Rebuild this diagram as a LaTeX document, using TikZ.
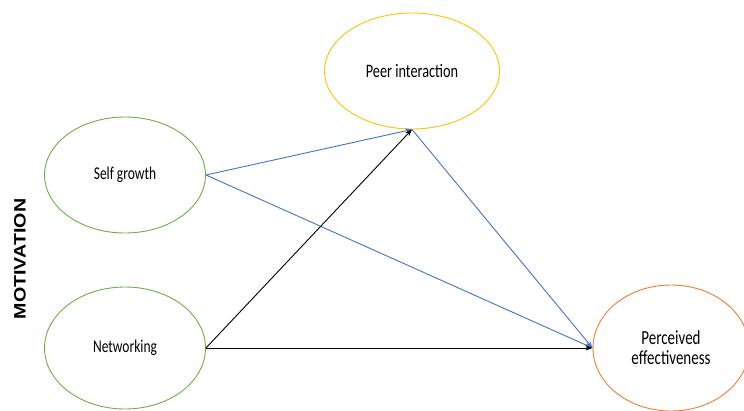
\documentclass[tikz,border=0pt]{standalone}
\usepackage{fontspec}
\setmainfont{Carlito}
\newfontfamily\motfont{Liberation Sans}
\usetikzlibrary{shapes.geometric,arrows.meta}
\definecolor{cgreen}{RGB}{112,173,71}
\definecolor{cyellow}{RGB}{255,192,0}
\definecolor{corange}{RGB}{237,125,49}
\definecolor{cblue}{RGB}{68,114,196}
\newcommand\sqz[1]{\scalebox{0.75}[1]{#1}}
\begin{document}
\begin{tikzpicture}[x=1pt,y=-1pt,
  construct/.style={ellipse,draw,line width=0.9pt,inner sep=0pt,align=center,text=black},
  link/.style={line width=0.9pt,-{Stealth[length=7pt,width=5pt]}},
  bluelink/.style={link,cblue},
  blacklink/.style={link,black}]
\useasboundingbox (0,0) rectangle (744,410);
\node[construct,draw=cgreen,minimum width=161pt,minimum height=116pt,font=\fontsize{18}{20}\selectfont] (sg) at (125,175) {\sqz{Self growth}};
\node[construct,draw=cgreen,minimum width=161pt,minimum height=122pt,font=\fontsize{18}{20}\selectfont] (nw) at (125,348) {\sqz{Networking}};
\node[construct,draw=cyellow,minimum width=175pt,minimum height=116pt,font=\fontsize{19}{21}\selectfont] (pi) at (412,71) {\sqz{Peer interaction}};
\node[construct,draw=corange,minimum width=156pt,minimum height=126pt,font=\fontsize{20}{20}\selectfont] (pe) at (671,348) {\sqz{Perceived}\\\sqz{effectiveness}};
\node[rotate=90,font=\motfont\bfseries\fontsize{16.5}{18}\selectfont] (mot) at (20,259) {\scalebox{1.19}[1]{MOTIVATION}};
\draw[bluelink] (sg.east) -- (pi.south);
\draw[bluelink] (sg.east) -- (pe.west);
\draw[blacklink] (nw.east) -- (pi.south);
\draw[blacklink] (nw.east) -- (pe.west);
\draw[bluelink] (pi.south) -- (pe.west);
\end{tikzpicture}
\end{document}
